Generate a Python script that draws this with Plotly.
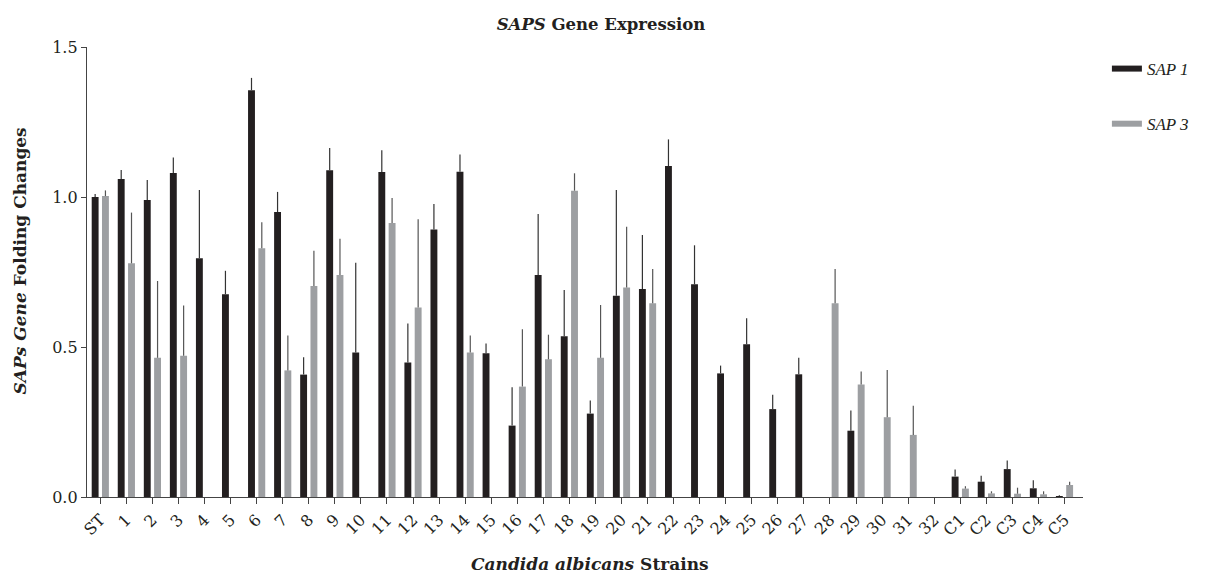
import plotly.graph_objects as go

categories = ["ST"] + [str(i) for i in range(1, 33)] + ["C1", "C2", "C3", "C4", "C5"]

sap1 = [1.00, 1.06, 0.99, 1.08, 0.796, 0.676, 1.356, 0.95, 0.408, 1.089,
        0.482, 1.083, 0.448, 0.892, 1.084, 0.479, 0.238, 0.74, 0.536, 0.278,
        0.671, 0.693, 1.103, 0.709, 0.412, 0.509, 0.293, 0.409, None, 0.221,
        None, None, None, 0.068, 0.051, 0.093, 0.029, 0.003]
sap1_err = [0.01, 0.03, 0.067, 0.052, 0.227, 0.078, 0.041, 0.067, 0.058, 0.074,
            0.299, 0.073, 0.13, 0.085, 0.058, 0.033, 0.128, 0.203, 0.154, 0.044,
            0.352, 0.18, 0.089, 0.13, 0.026, 0.087, 0.048, 0.055, None, 0.067,
            None, None, None, 0.024, 0.02, 0.029, 0.027, 0.003]

sap3 = [1.003, 0.779, 0.464, 0.471, None, None, 0.829, 0.422, 0.703, 0.74,
        None, 0.913, 0.632, None, 0.482, None, 0.368, 0.459, 1.021, 0.464,
        0.698, 0.646, None, None, None, None, None, None, 0.646, 0.375,
        0.266, 0.207, None, 0.028, 0.012, 0.011, 0.009, 0.04]
sap3_err = [0.019, 0.169, 0.256, 0.167, None, None, 0.087, 0.116, 0.118, 0.121,
            None, 0.084, 0.294, None, 0.056, None, 0.191, 0.082, 0.058, 0.176,
            0.203, 0.114, None, None, None, None, None, None, 0.114, 0.043,
            0.157, 0.097, None, 0.008, 0.007, 0.02, 0.01, 0.011]

BLACK = "#231f20"
GREY = "#9d9fa2"
FONT = "DejaVu Serif"

fig = go.Figure()
fig.add_trace(go.Bar(
    x=categories, y=sap1, name="SAP 1", marker=dict(color=BLACK, line=dict(width=0)),
    error_y=dict(type="data", array=sap1_err, arrayminus=[0] * len(sap1_err),
                 symmetric=False, width=0, thickness=1.2, color="#333333"),
    showlegend=False))
fig.add_trace(go.Bar(
    x=categories, y=sap3, name="SAP 3", marker=dict(color=GREY, line=dict(width=0)),
    error_y=dict(type="data", array=sap3_err, arrayminus=[0] * len(sap3_err),
                 symmetric=False, width=0, thickness=1.2, color="#555555"),
    showlegend=False))

# legend entries drawn as thick line segments
fig.add_trace(go.Scatter(x=[None], y=[None], mode="lines", name="<i>SAP 1</i>",
                         line=dict(color=BLACK, width=6), legendgroup="a"))
fig.add_trace(go.Scatter(x=[None], y=[None], mode="lines", name="<i>SAP 3</i>",
                         line=dict(color=GREY, width=6), legendgroup="b"))

fig.update_layout(
    width=1206, height=574,
    margin=dict(l=87, r=111, t=47, b=77),
    paper_bgcolor="white", plot_bgcolor="white",
    font=dict(family=FONT, size=16, color="#231f20"),
    barmode="group", bargap=0.21, bargroupgap=0.33,
    title=dict(text="<b><i>SAPS</i> Gene Expression</b>", x=601 / 1206, xref="container",
               y=1 - 24 / 574, yref="container", xanchor="center", yanchor="middle",
               font=dict(family=FONT, size=16.5)),
    legend=dict(x=1.024, xanchor="left", y=0.991, yanchor="top", traceorder="grouped",
                tracegroupgap=30, font=dict(family="Liberation Serif", size=17),
                bgcolor="rgba(0,0,0,0)"),
    xaxis=dict(type="category", range=[-0.51, 37.71], showline=True, linecolor="#444",
               linewidth=1.3, ticks="outside", ticklen=6, tickcolor="#444",
               tickangle=-45, showgrid=False, zeroline=False,
               tickfont=dict(family=FONT, size=16)),
    yaxis=dict(range=[0, 1.5], tickvals=[0, 0.5, 1.0, 1.5], tickformat=".1f",
               showline=True, linecolor="#444", linewidth=1.3, ticks="outside",
               ticklen=5, tickcolor="#444", showgrid=False, zeroline=False,
               tickfont=dict(family=FONT, size=16)),
    annotations=[
        dict(text="<b><i>SAPs Gene</i> Folding Changes</b>", xref="paper", yref="paper",
             x=-0.067, y=0.524, xanchor="center", yanchor="middle", textangle=-90,
             showarrow=False, font=dict(family=FONT, size=17)),
        dict(text="<b><i>Candida albicans</i> Strains</b>", xref="paper", yref="paper",
             x=0.505, y=-0.148, xanchor="center", yanchor="middle",
             showarrow=False, font=dict(family=FONT, size=17)),
    ],
)

fig.write_html("out.html", config={"displayModeBar": False},
               post_script="document.body.style.margin='0px';")
